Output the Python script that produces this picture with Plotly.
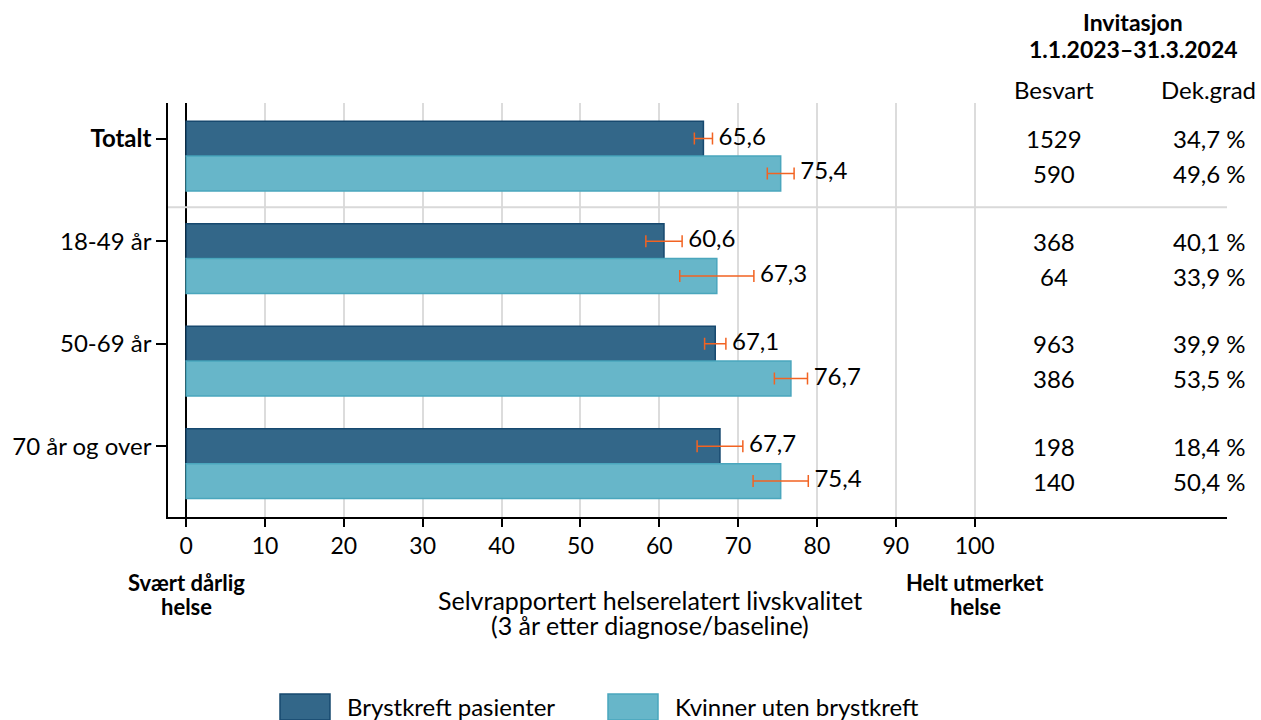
import plotly.graph_objects as go

groups = ["<b>Totalt</b>", "18-49 år", "50-69 år", "70 år og over"]
series_names = ["Brystkreft pasienter", "Kvinner uten brystkreft"]
patients = [65.6, 60.6, 67.1, 67.7]
patients_err = [1.15, 2.3, 1.35, 2.9]
controls = [75.4, 67.3, 76.7, 75.4]
controls_err = [1.7, 4.7, 2.1, 3.5]
besvart_pat = ["1529", "368", "963", "198"]
besvart_ctl = ["590", "64", "386", "140"]
dek_pat = ["34,7 %", "40,1 %", "39,9 %", "18,4 %"]
dek_ctl = ["49,6 %", "33,9 %", "53,5 %", "50,4 %"]
xticks = [0, 10, 20, 30, 40, 50, 60, 70, 80, 90, 100]

FONT = "Lato"
DARK = "#336789"
DARK_LINE = "#17496f"
LIGHT = "#67b6c9"
LIGHT_LINE = "#4aa6bd"
ORANGE = "#f26322"

g = list(range(len(groups)))
off = 0.17
y_pat = [i - off for i in g]
y_ctl = [i + off for i in g]

# plot area in pixels: top 103, bottom 517, left 168, right 1227
def py(px):
    return (517 - px) / 414

def pxx(px):
    return (px - 168) / 1059

def fmt(v):
    return " " + f"{v:.1f}".replace(".", ",")

fig = go.Figure()
for ys, vals, errs, fill, line, name in [
    (y_pat, patients, patients_err, DARK, DARK_LINE, series_names[0]),
    (y_ctl, controls, controls_err, LIGHT, LIGHT_LINE, series_names[1]),
]:
    fig.add_trace(go.Bar(
        y=ys, x=vals, orientation="h", width=0.34, name=name,
        marker=dict(color=fill, line=dict(color=line, width=1.5)),
        error_x=dict(type="data", array=errs, color=ORANGE, thickness=1.5, width=6),
        showlegend=False,
    ))
    fig.add_trace(go.Scatter(
        y=ys, x=[v + e for v, e in zip(vals, errs)], mode="text",
        text=[fmt(v) for v in vals], textposition="middle right",
        textfont=dict(family=FONT, size=24, color="black"),
        showlegend=False, hoverinfo="skip", cliponaxis=False,
    ))

def txt(x, y, text, size=24, anchor="center"):
    return dict(x=x, xref="paper", y=y, yref="paper", text=text, showarrow=False,
                xanchor=anchor, yanchor="middle", font=dict(family=FONT, size=size, color="black"))

annotations = []
for ys, bes, dek in [(y_pat, besvart_pat, dek_pat), (y_ctl, besvart_ctl, dek_ctl)]:
    for y, b, d in zip(ys, bes, dek):
        annotations.append(dict(x=pxx(1054), xref="paper", y=y, yref="y", text=b,
                                showarrow=False, xanchor="center",
                                font=dict(family=FONT, size=24, color="black")))
        annotations.append(dict(x=pxx(1248), xref="paper", y=y, yref="y", text=d,
                                showarrow=False, xanchor="right",
                                font=dict(family=FONT, size=24, color="black")))

annotations += [
    txt(pxx(1133), py(22), "<b>Invitasjon</b>", 23),
    txt(pxx(1133), py(49), "<b>1.1.2023–31.3.2024</b>", 23),
    txt(pxx(1054), py(89), "Besvart", 24),
    txt(pxx(1258), py(89), "Dek.grad", 24, "right"),
    txt(pxx(186), py(582), "<b>Svært dårlig</b>", 22),
    txt(pxx(186), py(606), "<b>helse</b>", 22),
    txt(pxx(975), py(582), "<b>Helt utmerket</b>", 22),
    txt(pxx(975), py(606), "<b>helse</b>", 22),
    txt(pxx(650), py(600), "Selvrapportert helserelatert livskvalitet", 25),
    txt(pxx(650), py(625), "(3 år etter diagnose/baseline)", 25),
]

shapes = [
    dict(type="line", xref="paper", x0=0, x1=1, yref="y", y0=0.5, y1=0.5,
         line=dict(color="#d9d9d9", width=2)),
]
leg_items = [(280, DARK, DARK_LINE, series_names[0]), (608, LIGHT, LIGHT_LINE, series_names[1])]
for x0, fill, line, name in leg_items:
    shapes.append(dict(type="rect", xref="paper", yref="paper", x0=pxx(x0), x1=pxx(x0 + 50),
                       y0=py(720), y1=py(694), fillcolor=fill, line=dict(color=line, width=1.5)))
    annotations.append(txt(pxx(x0 + 65), py(706), name, 24, "left"))

fig.update_layout(
    width=1261, height=720,
    margin=dict(l=168, r=34, t=103, b=203),
    paper_bgcolor="white", plot_bgcolor="white",
    font=dict(family=FONT, size=23, color="black"),
    barmode="overlay",
    annotations=annotations, shapes=shapes,
    xaxis=dict(range=[-2.3, 132], tickvals=xticks, ticks="outside", ticklen=8,
               tickcolor="black", tickwidth=1.5, showgrid=True, gridcolor="#dcdcdc",
               gridwidth=2, zeroline=True, zerolinecolor="black", zerolinewidth=2,
               showline=True, linecolor="black", linewidth=1.5,
               tickfont=dict(family=FONT, size=23, color="black")),
    yaxis=dict(range=[3.52, -0.517], tickvals=y_pat, ticktext=groups, ticks="outside",
               ticklen=10, tickcolor="black", tickwidth=1.5, showgrid=False,
               zeroline=False, showline=True, linecolor="black", linewidth=1.5,
               tickfont=dict(family=FONT, size=24, color="black")),
)

fig.write_html("out.html", config={"displayModeBar": False},
               post_script="document.body.style.margin='0';document.body.style.overflow='hidden';")
